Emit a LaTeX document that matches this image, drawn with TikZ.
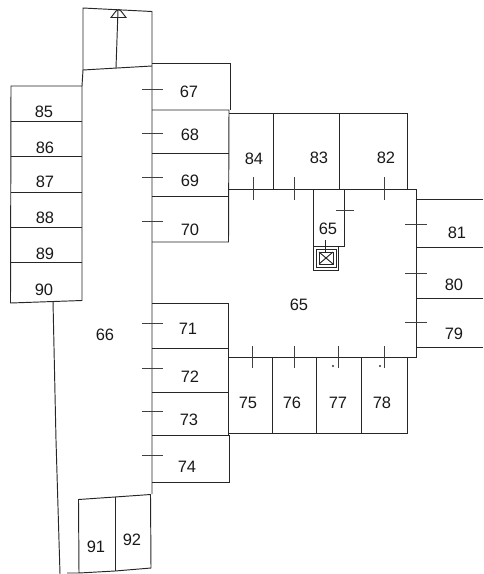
\documentclass[tikz,border=0pt]{standalone}
\usepackage{fontspec}
\setmainfont{Liberation Sans}
\tikzset{
  wall/.style={draw=black!85,line width=0.95pt},
  partition/.style={draw=black!85,line width=0.95pt},
  doortick/.style={draw=black!75,line width=0.95pt},
  roomlabel/.style={inner sep=0.75pt,font=\fontsize{16.5}{16.5}\selectfont,text=black!90}
}
\begin{document}
\begin{tikzpicture}[x=1pt,y=1pt,yscale=-1,xscale=1]
\useasboundingbox (0,0) rectangle (483,574);

%Corridor
\draw [wall] (83,70) -- (83,8) -- (152,11.5) -- (152,494) ;
\draw [wall] (83,70) -- (117,68) -- (152,66) ;
\draw [wall] (83,70) -- (82,86) ;
\draw [wall] (53,301) -- (56,440) -- (60,574) ;
\draw [partition] (118,10) -- (116,68) ;
%Entrance mark
\draw [partition] (111,17.5) -- (116,11) .. controls (118,9) and (120,9) .. (121,11) -- (126,17.5) -- cycle ;

%West rooms
\draw [wall] (11,86) -- (82,86) -- (82,300.5) -- (10.5,303) -- cycle ;
\foreach \y in {121,156,192,227,262}
  \draw [partition] (11,\y) -- (82,\y) ;

%Rooms on the corridor
\draw [wall] (152,63.5) -- (230,63.5) -- (230,110) ;
\draw [wall] (152,110) -- (229,110) -- (228.5,242) -- (152,242) ;
\draw [partition] (152,153) -- (229,153) ;
\draw [partition] (152,196) -- (229,196) ;
\draw [wall] (152,303) -- (228,303) -- (228,435) ;
\draw [partition] (152,348) -- (228,348) ;
\draw [partition] (152,392) -- (228,392) ;
\draw [wall] (152,435) -- (229,435) -- (229,482) -- (152,482) ;

%Hall
\draw [wall] (229,189) -- (416,189) -- (416,357) -- (228,357) ;
\draw [wall] (229,113) -- (407.5,113) -- (407.5,189) ;
\draw [partition] (273,113) -- (273,189) ;
\draw [partition] (339,113) -- (339,189) ;

%South rooms
\draw [wall] (228,433) -- (407,433) -- (407,357) ;
\foreach \x in {272,316.5,361}
  \draw [partition] (\x,357) -- (\x,433) ;

%East rooms
\foreach \y in {199,247,298,347}
  \draw [wall] (416,\y) -- (483,\y) ;

%South end rooms
\draw [wall] (67,573) -- (79,573) -- (115,571) -- (151,568) -- (150.5,494.5) -- (115,497) -- (78.5,499.5) -- (79,573) ;
\draw [partition] (115,497) -- (115,571) ;

%Lift
\draw [wall] (313,189) -- (313,270) -- (338.5,270) -- (338.5,246) -- (344,246) -- (344,189) ;
\draw [partition] (313,246) -- (338.5,246) ;
\draw [partition] (316,249) rectangle (336,267) ;
\draw [partition] (319,252) rectangle (333,264) ;
\draw [partition] (319,252) -- (333,264) (333,252) -- (319,264) ;
\draw [partition] (325,240) -- (325,252) ;

%Door ticks
\foreach \y in {89,133,177,221,323,368,411,455}
  \draw [doortick] (142,\y) -- (163,\y) ;
\foreach \x in {253,294,384}
  \draw [doortick] (\x,177) -- (\x,200) ;
\foreach \x in {252,294,338,384}
  \draw [doortick] (\x,346) -- (\x,368) ;
\foreach \y in {224,273,322}
  \draw [doortick] (405,\y) -- (427,\y) ;
\draw [doortick] (336,210) -- (354,210) ;
\fill [black!80] (333,366) circle (1.2pt) ;
\fill [black!80] (380,366) circle (1.2pt) ;

% Text Node
\node [roomlabel] (r67) at (189,92) {67};
\node [roomlabel] (r68) at (190,135) {68};
\node [roomlabel] (r69) at (190,181) {69};
\node [roomlabel] (r70) at (190,230) {70};
\node [roomlabel] (r71) at (188,329) {71};
\node [roomlabel] (r72) at (190,377) {72};
\node [roomlabel] (r73) at (189,420) {73};
\node [roomlabel] (r74) at (187,467) {74};
\node [roomlabel] (r75) at (248,403) {75};
\node [roomlabel] (r76) at (292,403) {76};
\node [roomlabel] (r77) at (338,403) {77};
\node [roomlabel] (r78) at (382,403) {78};
\node [roomlabel] (r79) at (454,334) {79};
\node [roomlabel] (r80) at (454,285) {80};
\node [roomlabel] (r81) at (457,233) {81};
\node [roomlabel] (r82) at (386,158) {82};
\node [roomlabel] (r83) at (319,158) {83};
\node [roomlabel] (r84) at (254,159) {84};
\node [roomlabel] (r85) at (44,112) {85};
\node [roomlabel] (r86) at (45,148) {86};
\node [roomlabel] (r87) at (45,182) {87};
\node [roomlabel] (r88) at (45,218) {88};
\node [roomlabel] (r89) at (45,254) {89};
\node [roomlabel] (r90) at (44,290) {90};
\node [roomlabel] (r66) at (105,335) {66};
\node [roomlabel] (r65) at (299,305) {65};
\node [roomlabel] (r65b) at (328,229) {65};
\node [roomlabel] (r91) at (96,547) {91};
\node [roomlabel] (r92) at (132,540) {92};

\end{tikzpicture}
\end{document}
